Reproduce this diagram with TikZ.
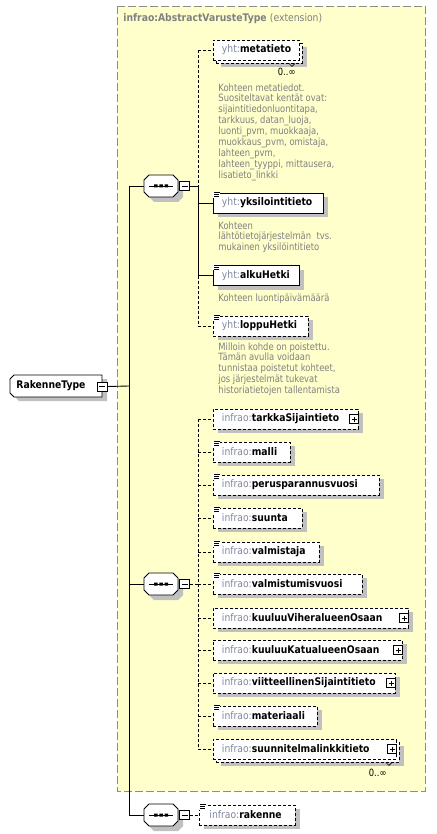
\documentclass[tikz,border=0pt]{standalone}
\usepackage{fontspec}
\setmainfont{DejaVu Sans}
\newfontfamily\labfont[FakeStretch=0.88]{DejaVu Sans}
\newfontfamily\descfont[FakeStretch=0.84]{DejaVu Sans}
\usetikzlibrary{shadows,calc}
\definecolor{bgy}{HTML}{FFFFCC}
\definecolor{shad}{HTML}{C0C0C0}
\definecolor{prefc}{HTML}{8088A0}
\definecolor{descc}{HTML}{808080}
\definecolor{framec}{HTML}{8C8C8C}
\newcommand\lab{\labfont\fontsize{10.5}{13}\selectfont\bfseries}
\newcommand\pfx[1]{{\mdseries\color{prefc}#1}}
\newcommand\dsc{\descfont\fontsize{10}{10.9}\selectfont\color{descc}}
\newcommand\el[2]{\hspace*{8.5pt}\mbox{\pfx{#1}#2}}
\newcommand\ico[1]{%
  \fill[white] ([shift={(-1,-1)}]#1.north west) rectangle ([shift={(7,5)}]#1.north west);
  \draw[line width=0.8pt] ([shift={(1,0)}]#1.north west) -- ++(6,0)
    ([shift={(1,2)}]#1.north west) -- ++(5,0)
    ([shift={(1,4)}]#1.north west) -- ++(5,0);}
\newcommand\plusb[1]{\node[pbox] (#1p) at ([xshift=-4.5pt]#1.east) {};}
\newcommand\seqc[2]{%
  \node[seqn] (#1) at (161,#2) {};
  \fill[shad, shift={(166,#2+5)}] (-17,-6) -- (-12,-11) -- (12,-11) -- (17,-6) -- (17,6) -- (12,11) -- (-12,11) -- (-17,6) -- cycle;
  \draw[fill=white, shift={(161,#2)}] (-17,-6) -- (-12,-11) -- (12,-11) -- (17,-6) -- (17,6) -- (12,11) -- (-12,11) -- (-17,6) -- cycle;
  \draw[shift={(161,#2)}] (-12,0) -- (12,0);
  \fill[shift={(161,#2)}] (-7,-1.5) rectangle (-3.5,1.5) (-1.75,-1.5) rectangle (1.75,1.5) (3.5,-1.5) rectangle (7,1.5);
  \node[mbox] (#1m) at (184.5,#2) {};}
\begin{document}
\begin{tikzpicture}[x=1pt,y=-1pt,line width=0.9pt,
  shd/.style={drop shadow={shadow xshift=5pt,shadow yshift=-4pt,fill=shad,opacity=1}},
  elem/.style={draw, fill=white, anchor=west, minimum height=20pt, inner xsep=0pt, inner ysep=0pt, text width=#1, align=left, font=\lab},
  opt/.style={dash pattern=on 3pt off 2pt},
  desc/.style={anchor=north west, inner sep=0pt, align=left, font=\dsc},
  mult/.style={anchor=east, inner sep=0pt, font=\descfont\fontsize{10}{11}\selectfont},
  pbox/.style={draw, solid, fill=white, minimum width=9pt, minimum height=9pt, inner sep=0pt,
    path picture={\draw[line width=0.8pt] ([xshift=2pt]path picture bounding box.west) -- ([xshift=-2pt]path picture bounding box.east)
      ([yshift=-2pt]path picture bounding box.north) -- ([yshift=2pt]path picture bounding box.south);}},
  mbox/.style={draw, solid, fill=white, minimum width=10pt, minimum height=9pt, inner sep=0pt,
    path picture={\draw[line width=0.8pt] ([xshift=2pt]path picture bounding box.west) -- ([xshift=-2pt]path picture bounding box.east);}},
  seqn/.style={minimum width=34pt, minimum height=22pt, inner sep=0pt},
]
\useasboundingbox[fill=white] (0,0) rectangle (436,834);

% extension frame
\draw[draw=framec, fill=bgy, dash pattern=on 8pt off 3pt] (117,6) rectangle (425,791);
\node[anchor=west, inner sep=0pt, font=\lab, text=descc] (title) at (123,19) {infrao:AbstractVarusteType \mdseries(extension)};

% root
\fill[shad] (15,383) -- (19,379) -- (107,379) -- (107,401) -- (19,401) -- (15,397) -- cycle;
\draw[fill=white] (10,379) -- (14,375) -- (102,375) -- (102,397) -- (14,397) -- (10,393) -- cycle;
\node[anchor=west, font=\lab, inner sep=0pt] (rt) at (16,386) {RakenneType};
\node[mbox] (rtm) at (102,386.5) {};

% sequences
\seqc{s1}{186}
\seqc{s2}{584}
\seqc{s3}{815}

\coordinate (j) at (129,386);
\draw (rtm.east) -- (j);
\draw (s1.west -| j) -- (s3.west -| j);
\draw (s1.west -| j) -- (s1.west);
\draw (s2.west -| j) -- (s2.west);
\draw (s3.west -| j) -- (s3.west);

% ---- sequence 1 children
\node[elem=86pt, opt, shd] (metab) at (216,53) {};
\node[elem=86pt, opt] (meta) at (213,50) {\el{yht:}{metatieto}};
\draw[line width=0.6pt] ([xshift=-14pt]metab.south east) -- ++(3,3) -- ++(3,-3);
\node[mult] (m1) at (296,72) {0..∞};
\node[desc] (d1) at (218,83) {Kohteen metatiedot.\\Suositeltavat kentät ovat:\\sijaintitiedonluontitapa,\\tarkkuus, datan\_luoja,\\luonti\_pvm, muokkaaja,\\muokkaus\_pvm, omistaja,\\lahteen\_pvm,\\lahteen\_tyyppi, mittausera,\\lisatieto\_linkki};

\node[elem=110pt, shd] (yks) at (213,203) {\el{yht:}{yksilointitieto}};
\ico{yks}
\node[desc] (d2) at (218,221) {Kohteen\\lähtötietojärjestelmän\ \ tvs.\\mukainen yksilöintitieto};

\node[elem=86pt, shd] (alku) at (213,275.5) {\el{yht:}{alkuHetki}};
\ico{alku}
\node[desc] (d3) at (218,293.5) {Kohteen luontipäivämäärä};

\node[elem=95pt, opt, shd] (loppu) at (213,326) {\el{yht:}{loppuHetki}};
\ico{loppu}
\node[desc] (d4) at (218,342) {Milloin kohde on poistettu.\\Tämän avulla voidaan\\tunnistaa poistetut kohteet,\\jos järjestelmät tukevat\\historiatietojen tallentamista};

\coordinate (b1) at (198,186);
\draw (s1m.east) -- (b1);
\draw[opt] (meta.west -| b1) -- (b1);
\draw (b1) -- (alku.west -| b1);
\draw[opt] (alku.west -| b1) -- (loppu.west -| b1);
\draw[opt] (meta.west -| b1) -- (meta.west);
\draw (yks.west -| b1) -- (yks.west);
\draw (alku.west -| b1) -- (alku.west);
\draw[opt] (loppu.west -| b1) -- (loppu.west);

% ---- sequence 2 children
\node[elem=145pt, opt, shd] (tar) at (213,419) {\el{infrao:}{tarkkaSijaintieto}};
\plusb{tar}
\node[elem=77pt, opt, shd] (mal) at (213,452) {\el{infrao:}{malli}};
\ico{mal}
\node[elem=166pt, opt, shd] (per) at (213,485) {\el{infrao:}{perusparannusvuosi}};
\ico{per}
\node[elem=89pt, opt, shd] (suu) at (213,518) {\el{infrao:}{suunta}};
\ico{suu}
\node[elem=106pt, opt, shd] (vma) at (213,552) {\el{infrao:}{valmistaja}};
\ico{vma}
\node[elem=149pt, opt, shd] (vmv) at (213,584) {\el{infrao:}{valmistumisvuosi}};
\ico{vmv}
\node[elem=195pt, opt, shd] (kvo) at (213,618) {\el{infrao:}{kuuluuViheralueenOsaan}};
\plusb{kvo}
\node[elem=189pt, opt, shd] (kko) at (213,650) {\el{infrao:}{kuuluuKatualueenOsaan}};
\plusb{kko}
\node[elem=182pt, opt, shd] (vsi) at (213,683) {\el{infrao:}{viitteellinenSijaintitieto}};
\plusb{vsi}
\node[elem=104pt, opt, shd] (mat) at (213,716) {\el{infrao:}{materiaali}};
\ico{mat}
\node[elem=183pt, opt, shd] (slkb) at (216,752) {};
\node[elem=183pt, opt] (slk) at (213,749) {\el{infrao:}{suunnitelmalinkkitieto}};
\plusb{slk}
\draw[line width=0.6pt] ([xshift=-14pt]slkb.south east) -- ++(3,3) -- ++(3,-3);
\node[mult] (m2) at (387,773) {0..∞};

\coordinate (b2) at (198,584);
\draw[opt] (s2m.east) -- (b2);
\draw[opt] (tar.west -| b2) -- (slk.west -| b2);
\foreach \n in {tar,mal,per,suu,vma,vmv,kvo,kko,vsi,mat,slk}
  \draw[opt] (\n.west -| b2) -- (\n.west);

% ---- sequence 3 child
\node[elem=96pt, opt, shd] (rak) at (199,815) {\hspace*{1.5pt}\el{infrao:}{rakenne}};
\ico{rak}
\draw[opt] (s3m.east) -- (rak.west);
\end{tikzpicture}
\end{document}
